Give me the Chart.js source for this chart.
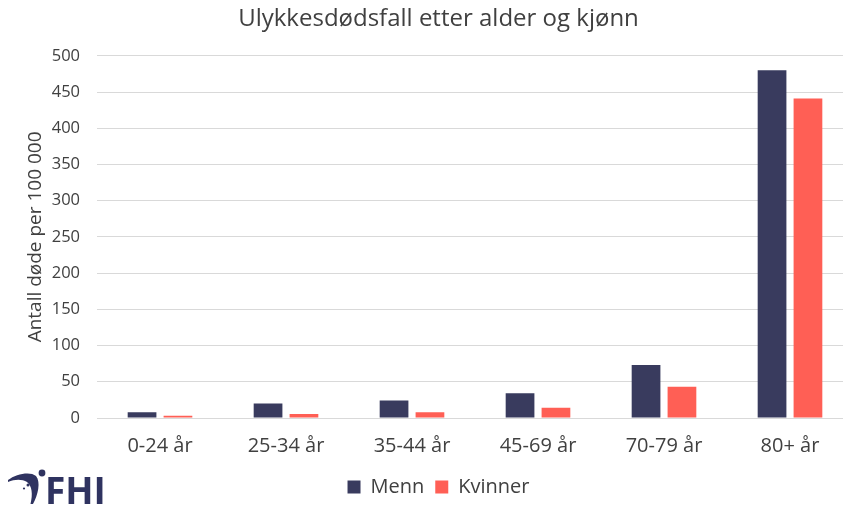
<!DOCTYPE html>
<html>
<head>
<meta charset="utf-8">
<script src="https://cdn.jsdelivr.net/npm/chart.js@4"></script>
<style>
  html, body { margin: 0; padding: 0; background: #fff; }
  /* the plot runs a little past the right edge, so the canvas is wider than the frame */
  #wrap { width: 843px; height: 507px; position: relative; overflow: hidden; }
</style>
</head>
<body>
<div id="wrap"><canvas id="accident-chart" width="853" height="507"></canvas></div>
<script>
const ageGroups = ["0-24 år", "25-34 år", "35-44 år", "45-69 år", "70-79 år", "80+ år"];
const menn = [8, 20, 24, 34, 73, 480];
const kvinner = [3, 5.5, 8, 14, 43, 441];
const yTicks = [0, 50, 100, 150, 200, 250, 300, 350, 400, 450, 500];

const textColor = "#404040";
const navy = "#393b5e";
const font = "'Open Sans', sans-serif";

// FHI logo in the bottom left corner
const fhiLogo = {
    id: "fhiLogo",
    afterDraw(chart) {
        const c = chart.ctx;
        c.save();
        c.fillStyle = "#2f3360";
        // swoosh
        c.beginPath();
        c.moveTo(8, 480);
        c.bezierCurveTo(16, 474, 30, 471, 36, 476);
        c.bezierCurveTo(41, 482, 38, 495, 33, 504);
        c.lineTo(30.5, 504);
        c.bezierCurveTo(33, 494, 32, 486, 27, 482);
        c.bezierCurveTo(22, 479, 15, 479, 8, 482);
        c.closePath();
        c.fill();
        // dots
        c.beginPath();
        c.arc(42, 473, 3.4, 0, Math.PI * 2);
        c.fill();
        c.beginPath();
        c.arc(28, 485, 1.5, 0, Math.PI * 2);
        c.fill();
        c.beginPath();
        c.arc(24, 488.5, 1.1, 0, Math.PI * 2);
        c.fill();
        c.font = "bold 37px " + font;
        c.textBaseline = "alphabetic";
        c.fillText("FHI", 45, 504);
        c.restore();
    }
};

new Chart(document.getElementById("accident-chart").getContext("2d"), {
    type: "bar",
    data: {
        labels: ageGroups,
        datasets: [{
            label: "Menn",
            data: menn,
            backgroundColor: navy,
            barPercentage: 0.8,
            categoryPercentage: 0.57,
        }, {
            label: "Kvinner",
            data: kvinner,
            backgroundColor: "#ff5f55",
            barPercentage: 0.8,
            categoryPercentage: 0.57,
        }],
    },
    options: {
        responsive: false,
        animation: false,
        layout: {
            padding: { left: 24, right: 0, top: 0, bottom: 0 },
        },
        plugins: {
            title: {
                display: true,
                text: "Ulykkesdødsfall etter alder og kjønn",
                color: textColor,
                font: { family: font, size: 24, weight: "normal" },
                padding: { top: 5, bottom: 22 },
            },
            legend: {
                position: "bottom",
                labels: {
                    color: textColor,
                    boxWidth: 13,
                    boxHeight: 13,
                    padding: 11,
                    font: { family: font, size: 20 },
                },
            },
            tooltip: { enabled: false },
        },
        scales: {
            x: {
                grid: { display: false },
                border: { display: false },
                ticks: {
                    color: textColor,
                    padding: 8,
                    font: { family: font, size: 20 },
                },
            },
            y: {
                min: 0,
                max: 500,
                afterBuildTicks(scale) {
                    scale.ticks = yTicks.map(v => ({ value: v }));
                },
                afterFit(scale) {
                    scale.width = 73;
                },
                grid: { color: "#d9d9d9", lineWidth: 1, drawTicks: false },
                border: { display: false },
                ticks: {
                    color: textColor,
                    padding: 17,
                    font: { family: font, size: 16.5 },
                },
                title: {
                    display: true,
                    text: "Antall døde per 100 000",
                    color: textColor,
                    font: { family: font, size: 19 },
                    padding: { top: 0, bottom: 0 },
                },
            },
        },
    },
    plugins: [fhiLogo],
});
</script>
</body>
</html>
